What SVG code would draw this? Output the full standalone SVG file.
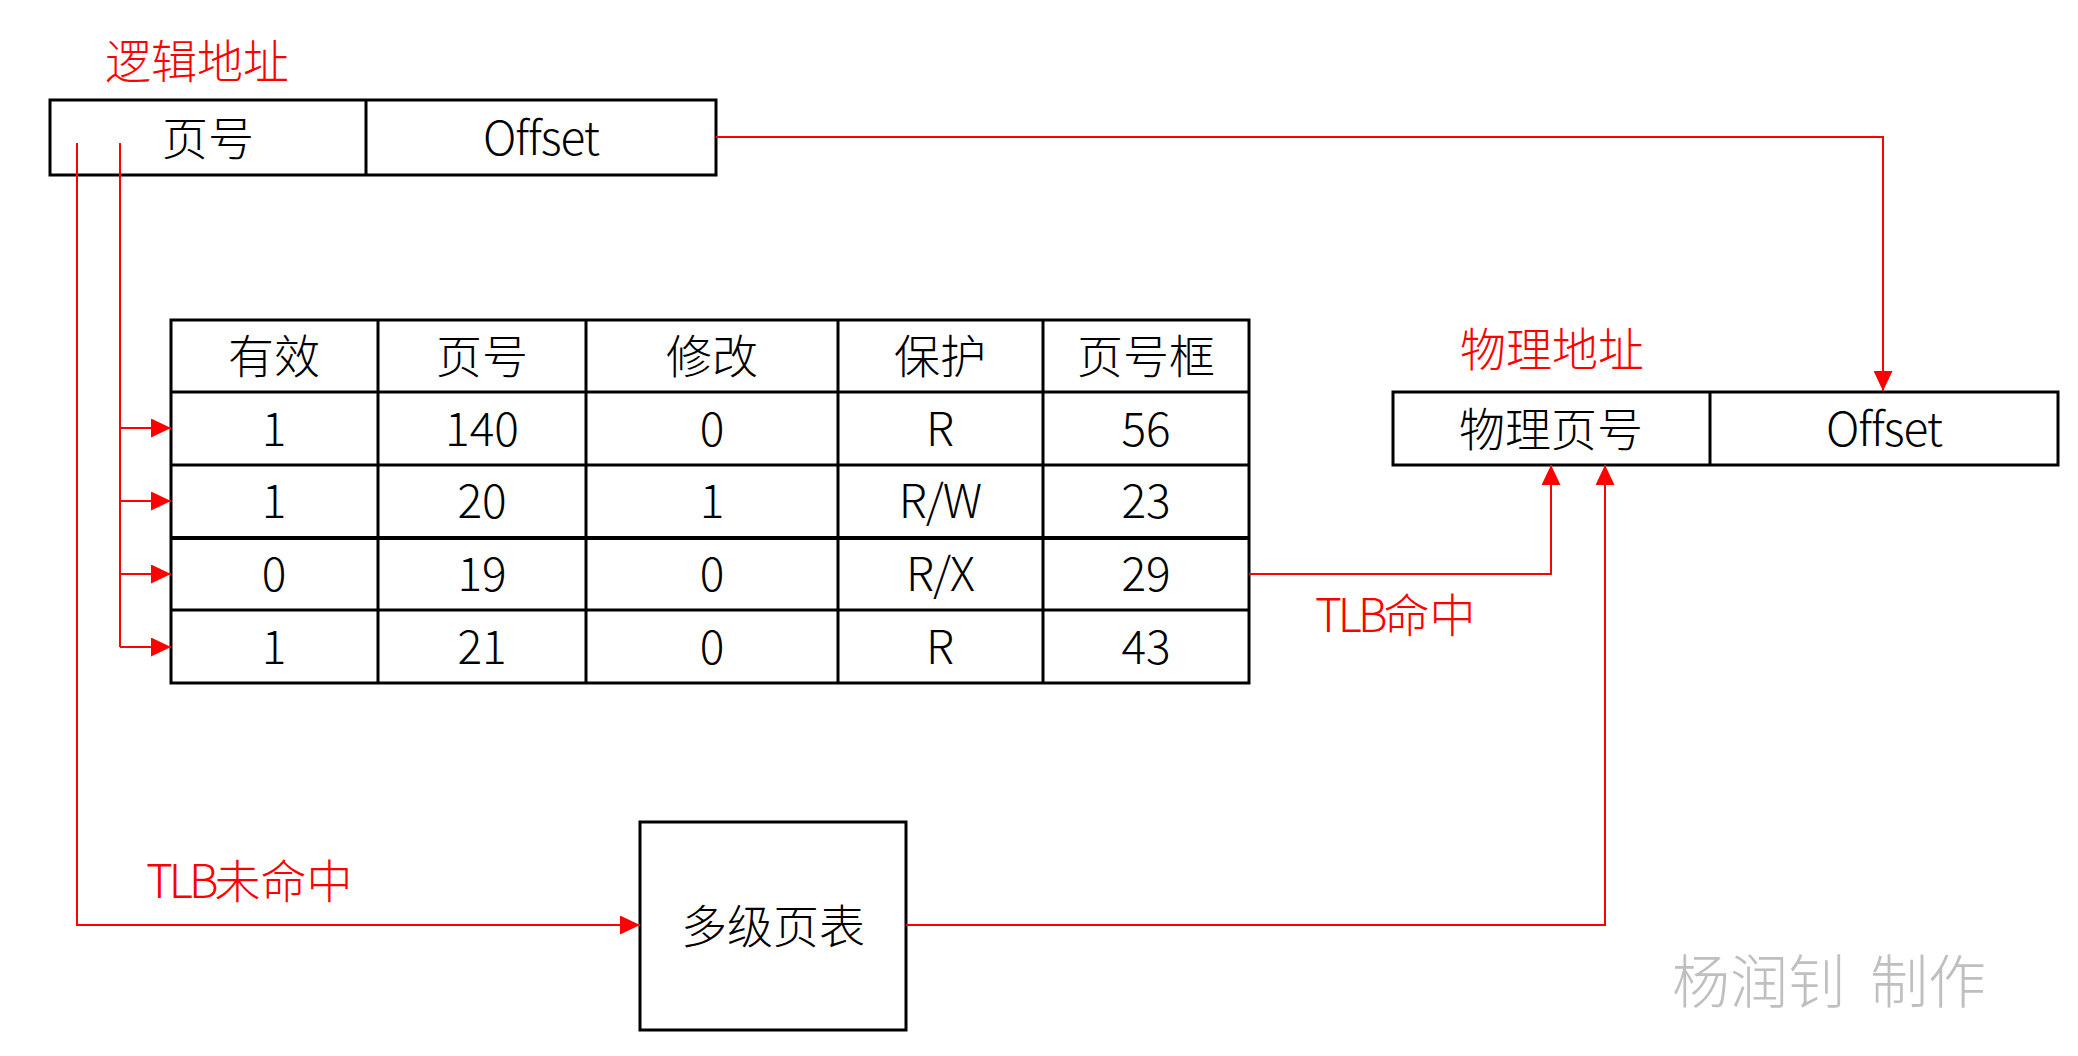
<svg xmlns="http://www.w3.org/2000/svg" width="2078" height="1056" viewBox="0 0 2078 1056">
<style>
.box{fill:#fff;stroke:#000;stroke-width:3}
.ln{stroke:#000;stroke-width:3;fill:none}
.t{font-family:"Noto Sans CJK SC","Liberation Sans",sans-serif;font-size:46px;font-weight:300;fill:#000;text-anchor:middle}
.rt{font-family:"Noto Sans CJK SC","Liberation Sans",sans-serif;font-size:46px;font-weight:300;fill:#ff0000}
.wm{font-family:"Noto Sans CJK SC","Liberation Sans",sans-serif;font-size:58px;font-weight:300;fill:#bfbfbf}
.c{fill:none;stroke:#ff0000;stroke-width:2}
.nl{letter-spacing:-4px}
.of{letter-spacing:-1px}
</style>
<defs>
<marker id="ah" markerWidth="20" markerHeight="19" refX="20" refY="9.5" orient="auto" markerUnits="userSpaceOnUse">
<path d="M0,0 L20,9.5 L0,19 Z" fill="#ff0000"/>
</marker>
</defs>
<rect width="2078" height="1056" fill="#fff"/>

<g id="logical-address">
<text class="rt" x="105" y="78">逻辑地址</text>
<rect class="box" x="50" y="100" width="666" height="75"/>
<line class="ln" x1="366" y1="100" x2="366" y2="175"/>
<text class="t" x="208" y="155">页号</text>
<text class="t of" x="541" y="155">Offset</text>
</g>

<g id="tlb-table">
<rect class="box" x="171" y="320" width="1078" height="363"/>
<line class="ln" x1="378" y1="320" x2="378" y2="683"/>
<line class="ln" x1="586" y1="320" x2="586" y2="683"/>
<line class="ln" x1="838" y1="320" x2="838" y2="683"/>
<line class="ln" x1="1043" y1="320" x2="1043" y2="683"/>
<line class="ln" x1="171" y1="392" x2="1249" y2="392"/>
<line class="ln" x1="171" y1="465" x2="1249" y2="465"/>
<line class="ln" x1="171" y1="538" x2="1249" y2="538" style="stroke-width:4"/>
<line class="ln" x1="171" y1="610" x2="1249" y2="610"/>
<text class="t" x="274" y="373">有效</text>
<text class="t" x="482" y="373">页号</text>
<text class="t" x="712" y="373">修改</text>
<text class="t" x="940" y="373">保护</text>
<text class="t" x="1146" y="373">页号框</text>
<text class="t" x="274" y="446">1</text>
<text class="t" x="482" y="446">140</text>
<text class="t" x="712" y="446">0</text>
<text class="t" x="940" y="446">R</text>
<text class="t" x="1146" y="446">56</text>
<text class="t" x="274" y="518">1</text>
<text class="t" x="482" y="518">20</text>
<text class="t" x="712" y="518">1</text>
<text class="t of" x="940" y="518">R/W</text>
<text class="t" x="1146" y="518">23</text>
<text class="t" x="274" y="591">0</text>
<text class="t" x="482" y="591">19</text>
<text class="t" x="712" y="591">0</text>
<text class="t of" x="940" y="591">R/X</text>
<text class="t" x="1146" y="591">29</text>
<text class="t" x="274" y="664">1</text>
<text class="t" x="482" y="664">21</text>
<text class="t" x="712" y="664">0</text>
<text class="t" x="940" y="664">R</text>
<text class="t" x="1146" y="664">43</text>
</g>

<g id="physical-address">
<text class="rt" x="1460" y="366">物理地址</text>
<rect class="box" x="1393" y="392" width="665" height="73"/>
<line class="ln" x1="1710" y1="392" x2="1710" y2="465"/>
<text class="t" x="1551" y="446">物理页号</text>
<text class="t of" x="1884" y="446">Offset</text>
</g>

<g id="multi-level-page-table">
<rect class="box" x="640" y="822" width="266" height="208"/>
<text class="t" x="773" y="943">多级页表</text>
</g>

<g id="connectors">
<path class="c" d="M716,137 H1883 V391" marker-end="url(#ah)"/>
<path class="c" d="M120,143 V647"/>
<path class="c" d="M120,428 H171" marker-end="url(#ah)"/>
<path class="c" d="M120,501 H171" marker-end="url(#ah)"/>
<path class="c" d="M120,574 H171" marker-end="url(#ah)"/>
<path class="c" d="M120,647 H171" marker-end="url(#ah)"/>
<path class="c" d="M77,143 V925 H640" marker-end="url(#ah)"/>
<path class="c" d="M1249,574 H1551 V465" marker-end="url(#ah)"/>
<path class="c" d="M906,925 H1605 V465" marker-end="url(#ah)"/>
<text class="rt" x="1315" y="632"><tspan class="nl">TLB</tspan>命中</text>
<text class="rt" x="146" y="898"><tspan class="nl">TLB</tspan>未命中</text>
</g>

<text class="wm" x="1672" y="1003">杨润钊</text>
<text class="wm" x="1870" y="1003">制作</text>
</svg>
